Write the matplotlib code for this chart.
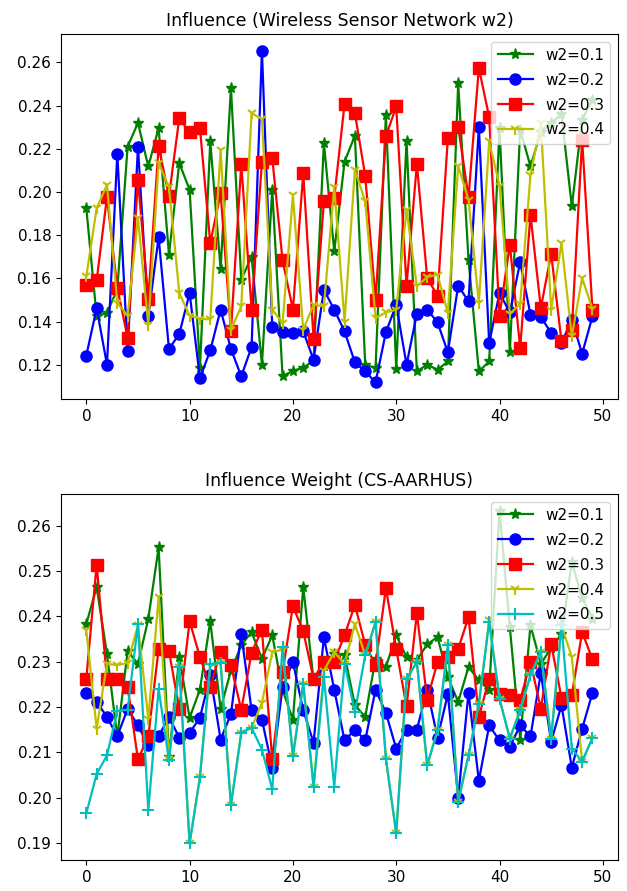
import numpy as np
import matplotlib
matplotlib.use("Agg")
import matplotlib.pyplot as plt

x = list(range(50))

top_title = "Influence (Wireless Sensor Network w2)"
bot_title = "Influence Weight (CS-AARHUS)"

top_w01 = [0.1925, 0.1424, 0.1440, 0.1550, 0.2210, 0.2320, 0.2118, 0.2296, 0.1710, 0.2134,
           0.2010, 0.1186, 0.2234, 0.1643, 0.2481, 0.1594, 0.1701, 0.1200, 0.2010, 0.1146,
           0.1172, 0.1185, 0.1220, 0.2226, 0.1725, 0.2141, 0.2260, 0.1200, 0.1185, 0.2357,
           0.1180, 0.2237, 0.1169, 0.1200, 0.1177, 0.1215, 0.2504, 0.1686, 0.1169, 0.1215,
           0.2296, 0.1257, 0.2288, 0.2118, 0.2280, 0.2320, 0.2360, 0.1933, 0.2334, 0.2427]
top_w02 = [0.1242, 0.1462, 0.1200, 0.2177, 0.1265, 0.2208, 0.1424, 0.1791, 0.1273, 0.1342,
           0.1532, 0.1138, 0.1266, 0.1455, 0.1273, 0.1146, 0.1282, 0.2655, 0.1374, 0.1350,
           0.1347, 0.1354, 0.1223, 0.1547, 0.1455, 0.1354, 0.1211, 0.1169, 0.1118, 0.1350,
           0.1478, 0.1200, 0.1436, 0.1455, 0.1396, 0.1257, 0.1566, 0.1493, 0.2300, 0.1300,
           0.1532, 0.1442, 0.1675, 0.1431, 0.1421, 0.1347, 0.1300, 0.1408, 0.1251, 0.1424]
top_w03 = [0.1570, 0.1590, 0.1976, 0.1555, 0.1324, 0.2056, 0.1504, 0.2211, 0.1979, 0.2342,
           0.2276, 0.2296, 0.1763, 0.1995, 0.1354, 0.2129, 0.1455, 0.2141, 0.2157, 0.1683,
           0.1455, 0.2087, 0.1319, 0.1956, 0.1972, 0.2408, 0.2365, 0.2075, 0.1498, 0.2257,
           0.2396, 0.1566, 0.2129, 0.1601, 0.1519, 0.2249, 0.2303, 0.1975, 0.2574, 0.2347,
           0.1427, 0.1756, 0.1277, 0.1894, 0.1462, 0.1714, 0.1308, 0.1362, 0.2242, 0.1452]
top_w04 = [0.1609, 0.1925, 0.2033, 0.1486, 0.1427, 0.1879, 0.1385, 0.2134, 0.2023, 0.1532,
           0.1427, 0.1412, 0.1410, 0.2195, 0.1362, 0.1470, 0.2365, 0.2337, 0.1455, 0.1393,
           0.1984, 0.1362, 0.1478, 0.1470, 0.2023, 0.1400, 0.2103, 0.1956, 0.1416, 0.1442,
           0.1455, 0.1918, 0.1563, 0.1606, 0.1617, 0.1439, 0.2121, 0.1964, 0.1486, 0.2234,
           0.2029, 0.1436, 0.1482, 0.2080, 0.2319, 0.1455, 0.1763, 0.1331, 0.1601, 0.1458]

bot_w01 = [0.2383, 0.2464, 0.2317, 0.2134, 0.2323, 0.2295, 0.2394, 0.2552, 0.2090, 0.2310,
           0.2176, 0.2238, 0.2389, 0.2196, 0.2280, 0.2336, 0.2365, 0.2306, 0.2358, 0.2237,
           0.2172, 0.2464, 0.2259, 0.2290, 0.2317, 0.2314, 0.2204, 0.2178, 0.2306, 0.2288,
           0.2358, 0.2310, 0.2303, 0.2338, 0.2354, 0.2266, 0.2211, 0.2288, 0.2259, 0.2237,
           0.2633, 0.2376, 0.2128, 0.2380, 0.2295, 0.2330, 0.2360, 0.2519, 0.2440, 0.2395]
bot_w02 = [0.2231, 0.2211, 0.2178, 0.2135, 0.2196, 0.2159, 0.2115, 0.2135, 0.2178, 0.2132,
           0.2143, 0.2176, 0.2270, 0.2128, 0.2184, 0.2360, 0.2193, 0.2172, 0.2066, 0.2244,
           0.2299, 0.2193, 0.2121, 0.2354, 0.2238, 0.2126, 0.2150, 0.2126, 0.2238, 0.2187,
           0.2108, 0.2150, 0.2150, 0.2238, 0.2132, 0.2228, 0.2000, 0.2231, 0.2037, 0.2159,
           0.2126, 0.2112, 0.2159, 0.2135, 0.2275, 0.2123, 0.2204, 0.2066, 0.2152, 0.2231]
bot_w03 = [0.2262, 0.2514, 0.2262, 0.2262, 0.2244, 0.2084, 0.2135, 0.2328, 0.2323, 0.2196,
           0.2389, 0.2310, 0.2244, 0.2322, 0.2292, 0.2193, 0.2320, 0.2370, 0.2084, 0.2277,
           0.2422, 0.2367, 0.2262, 0.2300, 0.2300, 0.2358, 0.2425, 0.2337, 0.2292, 0.2462,
           0.2328, 0.2201, 0.2407, 0.2216, 0.2299, 0.2310, 0.2328, 0.2398, 0.2178, 0.2262,
           0.2229, 0.2226, 0.2215, 0.2299, 0.2196, 0.2339, 0.2220, 0.2226, 0.2365, 0.2305]
bot_w04 = [0.2369, 0.2152, 0.2295, 0.2292, 0.2297, 0.2380, 0.2174, 0.2442, 0.2086, 0.2288,
           0.1899, 0.2046, 0.2290, 0.2297, 0.1983, 0.2143, 0.2154, 0.2209, 0.2321, 0.2326,
           0.2091, 0.2251, 0.2024, 0.2280, 0.2321, 0.2295, 0.2383, 0.2314, 0.2387, 0.2086,
           0.1921, 0.2262, 0.2299, 0.2071, 0.2148, 0.2336, 0.1990, 0.2093, 0.2207, 0.2391,
           0.2218, 0.2130, 0.2193, 0.2270, 0.2321, 0.2130, 0.2380, 0.2310, 0.2079, 0.2132]
bot_w05 = [0.1965, 0.2052, 0.2093, 0.2191, 0.2194, 0.2383, 0.1972, 0.2240, 0.2082, 0.2288,
           0.1899, 0.2045, 0.2295, 0.2297, 0.1983, 0.2143, 0.2154, 0.2106, 0.2018, 0.2332,
           0.2091, 0.2251, 0.2024, 0.2266, 0.2024, 0.2295, 0.2189, 0.2314, 0.2387, 0.2086,
           0.1921, 0.2262, 0.2299, 0.2071, 0.2148, 0.2336, 0.1991, 0.2093, 0.2207, 0.2387,
           0.2218, 0.2130, 0.2193, 0.2270, 0.2321, 0.2130, 0.2380, 0.2108, 0.2079, 0.2132]

labels = ["w2=0.1", "w2=0.2", "w2=0.3", "w2=0.4", "w2=0.5"]
styles = [("g", "*"), ("b", "o"), ("r", "s"), ("y", "1"), ("c", "+")]

fig = plt.figure(figsize=(6.27, 8.91), dpi=100)
ax1 = fig.add_axes([0.0973, 0.5522, 0.888, 0.4097])
ax2 = fig.add_axes([0.0973, 0.0348, 0.888, 0.4108])

def draw(ax, series, title):
    for s, lab, (c, m) in zip(series, labels, styles):
        ax.plot(x, s, color=c, marker=m, label=lab, linewidth=1.6, markersize=8,
                markeredgewidth=1.5 if m in ("1", "+") else 1.0)
    ax.set_title(title, fontsize=12.5)
    ax.tick_params(labelsize=11)
    ax.set_xticks([0, 10, 20, 30, 40, 50])
    ax.legend(loc="upper right", fontsize=11, handlelength=2.3, labelspacing=0.65)

draw(ax1, [top_w01, top_w02, top_w03, top_w04], top_title)
ax1.set_yticks([0.12, 0.14, 0.16, 0.18, 0.20, 0.22, 0.24, 0.26])
draw(ax2, [bot_w01, bot_w02, bot_w03, bot_w04, bot_w05], bot_title)
ax2.set_yticks([0.19, 0.20, 0.21, 0.22, 0.23, 0.24, 0.25, 0.26])

fig.savefig("out.png", dpi=100)
